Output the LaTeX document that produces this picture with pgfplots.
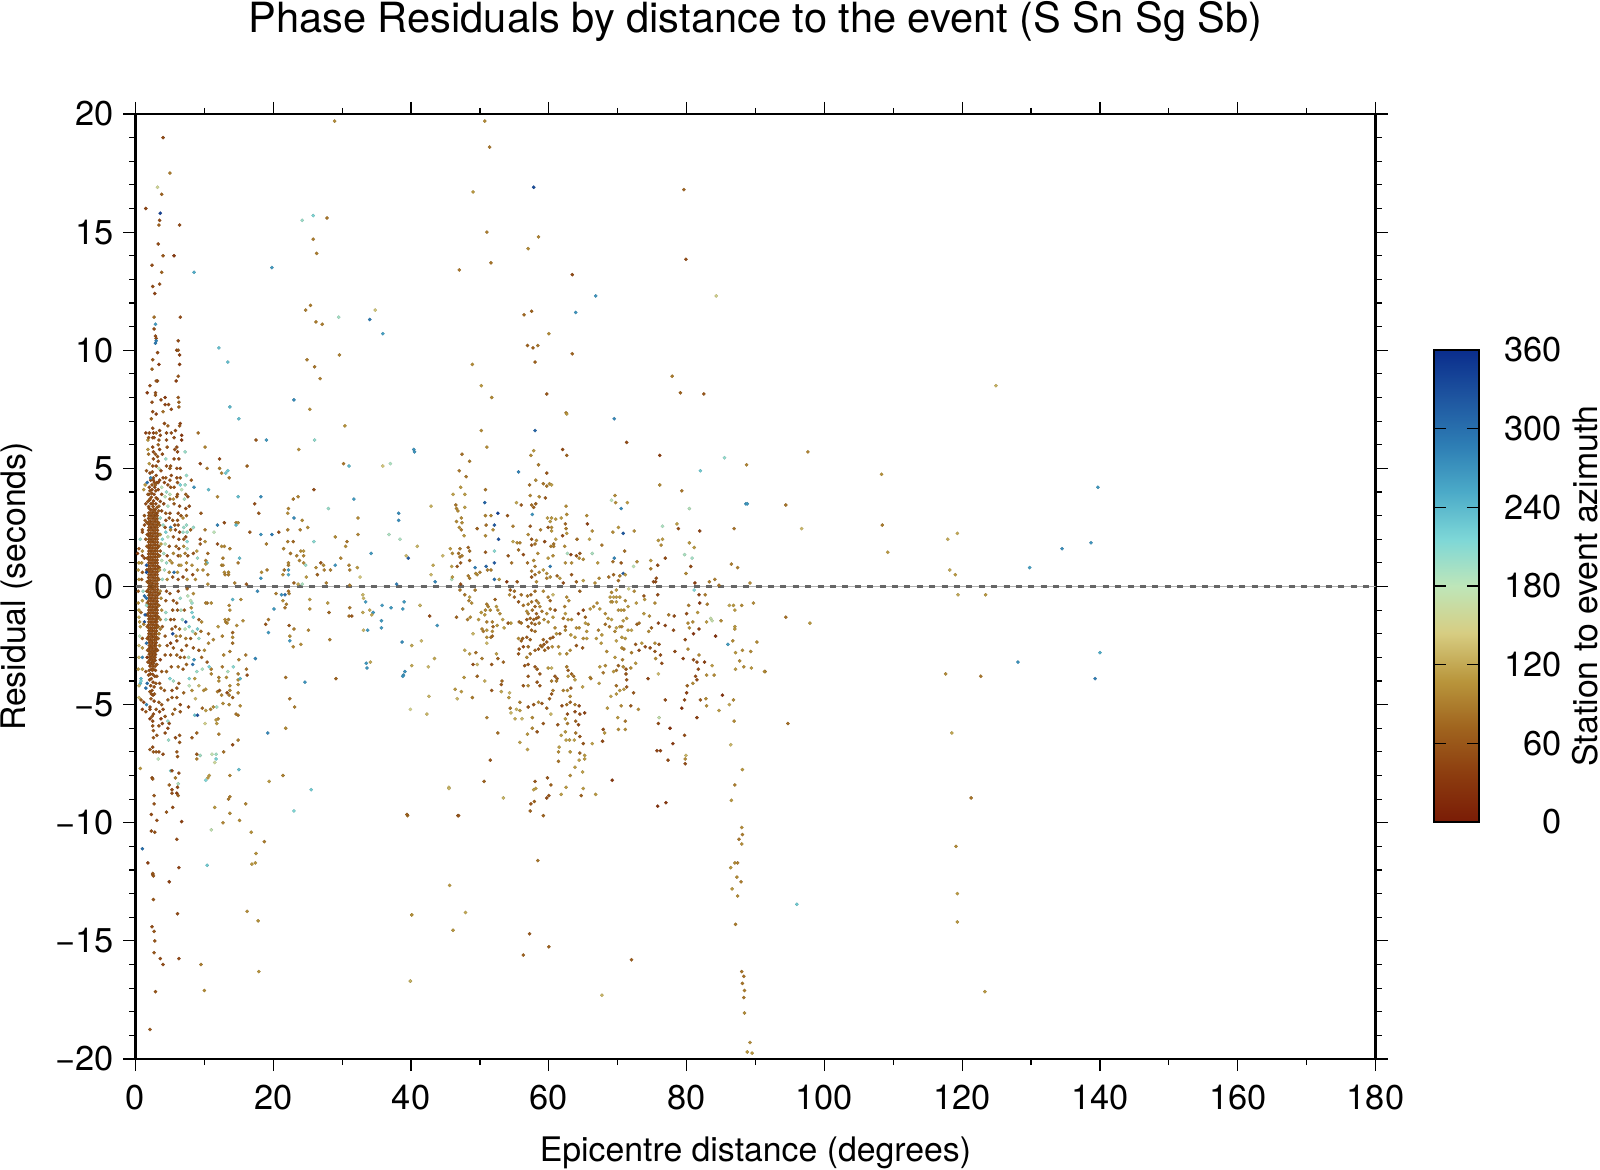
\documentclass[border=0pt]{standalone}
\usepackage{pgfplots}
\usepackage{fontspec}
\setmainfont{TeX Gyre Heros}
\pgfplotsset{compat=1.18}
\pgfplotstableread{
x y m
1.95 3.9 55
2.7 3.9 50
2.3 3.78 55
3 3.75 55
2 3.65 60
2.6 3.62 50
2.25 3.5 55
2.95 3.5 50
1.9 3.38 55
2.55 3.38 55
3.15 3.35 60
2.2 3.25 50
2.85 3.25 55
2.5 3.13 55
1.95 3.12 55
3.1 3.1 50
2.25 3 55
2.8 3 55
1.9 2.88 55
2.55 2.88 50
3.15 2.87 55
2.2 2.75 55
2.85 2.75 55
1.95 2.63 55
2.55 2.63 55
3.15 2.62 55
2.25 2.5 50
2.85 2.5 55
1.9 2.38 55
2.55 2.38 55
3.2 2.38 55
2.2 2.25 55
2.85 2.25 50
1.95 2.13 55
2.5 2.13 55
3.15 2.12 55
2.25 2 55
2.85 2 55
1.9 1.88 55
2.55 1.88 55
3.2 1.87 55
2.2 1.75 55
2.85 1.75 55
1.95 1.63 50
2.5 1.63 55
3.15 1.62 55
2.25 1.5 55
2.85 1.5 55
1.9 1.38 55
2.55 1.38 55
3.2 1.37 55
2.2 1.25 55
2.85 1.25 50
1.95 1.13 55
2.5 1.13 55
3.15 1.12 55
2.25 1 55
2.85 1 55
1.9 .88 55
2.55 .88 55
3.2 .87 50
2.2 .75 55
2.85 .75 55
1.95 .63 55
2.5 .63 55
3.15 .62 55
2.25 .5 55
2.85 .5 55
1.9 .38 50
2.55 .38 55
3.2 .37 55
2.2 .25 55
2.85 .25 55
1.95 .13 55
2.5 .13 55
3.15 .12 55
2.25 0 55
2.85 0 55
1.9 -.12 55
2.55 -.12 55
3.2 -.13 50
2.2 -.25 55
2.85 -.25 55
1.95 -.37 55
2.5 -.37 55
3.15 -.38 55
2.25 -.5 55
2.85 -.5 55
1.9 -.62 55
2.55 -.62 50
3.15 -.63 55
2.2 -.75 55
2.85 -.75 55
1.95 -.87 55
2.5 -.87 55
3.1 -.88 55
2.25 -1 55
2.85 -1 55
1.9 -1.12 50
2.55 -1.12 55
3.15 -1.13 55
2.2 -1.25 55
2.85 -1.25 55
1.95 -1.37 55
2.5 -1.37 55
3.1 -1.38 55
2.25 -1.5 55
2.85 -1.5 50
1.9 -1.62 55
2.55 -1.62 55
3.1 -1.63 55
2.2 -1.75 55
2.8 -1.75 55
1.95 -1.87 55
2.5 -1.87 55
3.05 -1.88 55
2.25 -2 50
2.8 -2 55
1.9 -2.12 55
2.5 -2.12 55
3 -2.13 55
2.2 -2.25 55
2.75 -2.25 55
2 -2.37 55
2.45 -2.37 55
3 -2.38 55
2.2 -2.5 55
2.75 -2.5 50
2 -2.62 55
2.45 -2.62 55
2.95 -2.63 55
2.25 -2.75 55
2.7 -2.75 55
2 -2.87 55
2.45 -2.87 55
2.9 -2.88 50
2.25 -3 55
2.7 -3 55
2.05 -3.12 55
2.5 -3.12 55
2.85 -3.13 55
2.3 -3.25 55
2.65 -3.25 55
2.1 -3.37 50
2.5 -3.37 55
2.85 -3.38 55
2.3 -3.5 55
2.6 -3.5 55
2.15 -3.7 50
2.5 -3.72 55
2.8 -3.8 50
2.3 -3.9 55
2.55 -4.05 50
2.2 -4.2 55
2.7 -4.25 55
2.4 -4.4 50
2.55 -4.6 50
2.25 -4.75 60
2.7 -4.85 50
2.25 3.12 55
2.85 3.13 55
1.95 3 55
2.55 3 55
3.15 3 55
2.25 2.88 55
2.85 2.87 55
1.95 2.75 55
2.55 2.75 55
3.15 2.75 55
2.25 2.63 55
2.85 2.62 55
1.95 2.5 55
2.55 2.5 55
3.15 2.5 55
2.25 2.38 55
2.85 2.37 55
1.95 2.25 55
2.55 2.25 55
3.15 2.25 55
2.25 2.13 55
2.85 2.12 55
1.95 2 55
2.55 2 55
3.15 2 55
2.25 1.88 55
2.85 1.87 55
1.95 1.75 55
2.55 1.75 55
3.15 1.75 55
2.25 1.63 55
2.85 1.62 55
1.95 1.5 55
2.55 1.5 55
3.15 1.5 55
2.25 1.38 55
2.85 1.37 55
1.95 1.25 55
2.55 1.25 55
3.15 1.25 55
2.25 1.13 55
2.85 1.12 55
1.95 1 55
2.55 1 55
3.15 1 55
2.25 .88 55
2.85 .87 55
1.95 .75 55
2.55 .75 55
3.15 .75 55
2.25 .63 55
2.85 .62 55
1.95 .5 55
2.55 .5 55
3.15 .5 55
2.25 .38 55
2.85 .37 55
1.95 .25 55
2.55 .25 55
3.15 .25 55
2.25 .13 55
2.85 .12 55
1.95 0 55
2.55 0 55
3.15 0 55
2.25 -.12 55
2.85 -.13 55
1.95 -.25 55
2.55 -.25 55
3.15 -.25 55
2.25 -.37 55
2.85 -.38 55
1.95 -.5 55
2.55 -.5 55
3.15 -.5 55
2.25 -.62 55
2.85 -.63 55
1.95 -.75 55
2.55 -.75 55
3.15 -.75 55
2.25 -.87 55
2.85 -.88 55
1.95 -1 55
2.55 -1 55
3.15 -1 55
2.25 -1.12 55
2.85 -1.13 55
1.95 -1.25 55
2.55 -1.25 55
3.1 -1.25 55
2.25 -1.37 55
2.85 -1.38 55
1.95 -1.5 55
2.55 -1.5 55
3.1 -1.5 55
2.25 -1.62 55
2.85 -1.63 55
1.95 -1.75 55
2.5 -1.75 55
3.05 -1.75 55
2.25 -1.87 55
2.8 -1.88 55
1.95 -2 55
2.5 -2 55
3 -2 55
2.25 -2.12 55
2.75 -2.13 55
1.95 -2.25 55
2.45 -2.25 55
3 -2.25 55
2.25 -2.37 55
2.75 -2.38 55
2 -2.5 55
2.45 -2.5 55
2.95 -2.5 55
2.25 -2.62 55
2.7 -2.63 55
2 -2.75 55
2.45 -2.75 55
2.9 -2.75 55
2.25 -2.87 55
2.7 -2.88 55
2.05 -3 55
2.45 -3 55
2.85 -3 55
2.3 -3.12 55
2.65 -3.13 55
2.5 -3.25 55
2.1 -3.25 55
3.35 2.7 60
3.45 2.2 55
3.4 1.7 60
3.5 1.3 70
3.45 .8 55
3.4 .3 70
3.45 -.3 60
3.4 -.8 70
3.35 -1.3 60
3.3 -1.7 70
3.3 -2.2 60
3.2 -2.7 55
3.1 -3.3 60
1.65 2.7 60
1.7 2.2 55
1.65 1.7 60
1.7 1.2 60
1.65 .7 55
1.7 .2 60
1.65 -.2 55
1.7 -.7 60
1.65 -1.2 55
1.7 -1.7 60
1.7 -2.2 55
1.75 -2.7 60
1.8 -3.2 55
3.3 4.1 50
2.4 4.1 55
2.8 4.2 50
3.1 4.4 55
2.6 4.6 55
2.2 4.5 50
2.1 4.05 55
2.5 3.5 55
2.6 3.25 55
2 3.3 55
3.2 3.7 55
2.35 3.95 55
3.35 3.2 60
2.75 4.4 55
1.8 3.6 60
2.45 4.85 50
2.95 4.05 55
2 -3.55 55
2.9 -3.55 55
2.45 -3.55 55
2.05 -3.95 55
2.95 -4.1 60
2.3 -4.55 55
2.75 -4.55 60
3.1 -3.8 60
1.9 -3.75 55
2.1 -4.45 60
4 19 50
5 17.5 90
3.2 16.9 155
3.8 16.6 70
1.5 16 45
3.6 15.8 340
3.5 15.5 50
3.4 15.3 70
6.4 15.3 50
25.8 15.7 215
24.2 15.5 200
27.8 15.6 85
28.9 19.7 100
3.3 14.5 50
25.8 14.7 90
26.3 14.1 90
4 14 60
5.6 14 35
2.4 13.6 50
3.8 13.3 70
8.5 13.3 250
19.8 13.5 265
2.5 12.7 50
3.5 12.8 50
2.8 12.4 40
25.4 11.9 90
24.7 11.7 90
26.2 11.2 90
27.1 11.1 90
34.8 11.7 140
29.5 11.4 195
34 11.3 290
35.9 10.7 260
2.7 11.4 80
6.5 11.4 50
2.9 11.1 265
2.7 10.9 50
2.9 10.6 50
3 10.5 50
6.2 10.4 50
2.9 10.3 290
3 10.4 285
3.2 9.9 50
6 10 50
6.2 10 60
6.4 9.8 40
12.1 10.1 235
13.4 9.5 235
24.9 9.6 90
29.6 9.8 95
26 9.3 85
26.8 8.8 90
2.5 9.6 60
3.4 9.4 35
6.4 9.4 40
2.4 9.2 70
6.2 8.9 60
5.9 8.7 40
3.2 8.7 55
3 8.7 55
2.1 8.5 50
1.7 8.2 35
2.9 8.2 50
2.9 8.1 60
4.3 8 35
6.2 8 60
3.7 7.9 50
2.4 7.8 50
4.3 7.7 40
4.8 7.7 50
6.3 7.8 70
6.3 7.6 70
23 7.9 275
13.7 7.6 240
15 7.1 235
25.3 7.5 100
2.5 7.4 50
3 7.3 40
4 7.4 80
5.2 7.5 50
2.3 7.1 70
4.2 6.9 50
4.7 6.8 70
6.5 6.9 40
6.4 6.8 60
30.4 6.8 105
1.5 6.5 40
9.1 6.5 80
17.5 6.2 60
19 6.2 265
26 6.2 205
10.1 5.9 95
23.7 5.8 100
40.4 5.8 270
40.5 5.7 270
9.4 5.2 45
12.2 5.4 45
12.2 5 90
10.4 5 85
16.2 5.1 70
12.5 4.8 90
13.1 4.8 225
13.4 4.9 225
13.6 4.6 85
30.2 5.2 85
31 5.1 240
35.9 5.1 140
37 5.2 190
8.5 4.2 270
10.6 4.1 235
11.9 3.8 95
14.9 3.8 235
18.2 3.8 275
17.3 3.5 50
22.9 3.7 85
23.6 3.8 95
25.9 4.1 50
31.7 3.7 265
28 3.3 200
22.2 3.3 95
22.1 3.1 100
17.9 3.1 60
9.5 3.1 60
38.2 3.1 275
38.2 2.8 275
32.3 2.9 100
23 2.9 275
24.2 2.8 100
11.9 2.6 285
12.9 2.7 50
14.6 2.7 90
14.9 2.7 100
14.6 2.6 240
25 2.5 100
10.1 2.4 85
11.4 2.3 180
16.6 2.3 60
18.2 2.2 270
19.8 2.2 290
20.8 2.3 50
22.1 2.4 90
23.9 2.4 90
29 2.1 100
32.3 2.2 95
36.8 2.2 190
38.4 2 190
40.9 1.7 130
9.4 2 50
9.4 1.8 60
10.1 1.9 100
11.9 1.8 50
12.5 1.7 100
12.9 1.7 95
13.7 1.6 90
19 1.8 90
22.1 1.9 90
22.9 1.9 75
21.5 1.6 95
22.5 1.4 85
24 1.5 100
24.4 1.5 110
24.4 1.3 95
23.4 1.3 90
25.9 1.9 210
30.7 1.9 85
30.5 1.7 100
34.2 1.4 265
39.3 1.3 130
39.6 1.2 320
29.8 1.2 95
26.9 1 60
26.2 .8 100
27.3 .9 100
24.7 .9 200
29 .9 270
31 .9 95
31.1 .7 90
32.2 .8 110
28.3 .7 90
27.4 .7 90
26.4 .5 70
24.8 .4 110
22.2 .7 265
22.2 .5 250
21.4 .5 100
21.6 .7 80
22.2 .9 90
22.2 1 95
24.4 1 95
23.8 1.1 95
19.1 .7 90
18.3 .6 100
18.2 .35 270
32.6 .4 140
14.9 1 85
15.1 1.2 235
12.7 1.2 90
12.5 .9 100
12.7 .9 90
12.9 .6 100
13.5 .6 100
13 .5 90
13.5 .5 90
10.5 1.4 75
10.2 1.1 90
10.4 1 235
10.2 .95 110
9.8 .7 100
10.5 .5 90
8.9 1.5 110
9 1.2 200
9 .7 100
14.4 .15 90
10.5 .1 100
16.1 .1 60
23 .15 70
23.6 .1 120
24.2 .1 190
27.7 .15 90
31.1 .05 90
37.9 .1 290
17.7 -.2 275
20.4 -.3 90
21.2 -.35 270
21.7 -.35 300
22.2 -.2 80
22.3 -.3 90
21.4 -.6 100
21.9 -.75 90
21.7 -.9 80
20.1 -.95 265
14.1 -.55 240
15.3 -.55 100
11 -.7 100
10.4 -.7 85
10.2 -.7 90
13.6 -.8 95
13.7 -1 100
25.3 -.55 110
25.3 -.95 100
27.9 -.7 110
28.1 -1.1 75
31.1 -.9 85
31 -1.25 80
31.4 -1.25 60
33 -.35 130
33.1 -.5 130
33.4 -.65 265
35.8 -.8 265
37.1 -.9 265
39 -.65 265
38.8 -.95 265
41.3 -.8 130
33 -1.1 120
34 -1 120
34.5 -1.1 265
34.3 -1.2 120
35.7 -1.45 265
35.7 -1.75 265
33.1 -1.85 130
33.7 -1.85 265
28.2 -2.25 90
25.1 -1.85 95
23 -1.8 90
22.3 -1.65 60
22.4 -2.1 100
22.4 -2.3 265
22.9 -2.55 95
24 -2.45 100
19.3 -1.4 85
18.9 -1.6 60
19.3 -1.95 265
15.6 -1.45 100
14.7 -1.65 100
14.1 -1.95 70
14.1 -2.15 100
14.1 -2.4 80
13 -1.4 100
13.3 -1.55 100
13.1 -1.5 90
13.5 -1.4 95
12 -1.7 110
12.6 -2.1 95
11.3 -2.25 95
10.6 -2.4 95
13.7 -2.75 90
16 -2.9 85
12.8 -2.9 95
17.4 -3.05 280
15 -3.1 95
38.7 -2.35 275
40.1 -2.5 120
40.1 -3.35 120
33.5 -3.25 265
33.6 -3.45 270
34.1 -3.2 120
39.1 -3.6 270
38.9 -3.75 270
38.8 -3.8 270
29.1 -3.9 70
24.6 -4.05 270
21.8 -3.85 80
16.1 -3.5 80
16.2 -3.75 50
14.9 -3.7 90
14.9 -3.95 100
15.2 -3.9 240
14.2 -3.4 210
13.4 -3.6 190
13.2 -3.85 100
12.1 -3.85 90
12.1 -4 100
11 -3.5 90
11 -3.7 95
12.6 -3.4 85
13.7 -4.2 100
13.7 -4.4 100
14.9 -4.15 100
14.9 -4.5 95
11.9 -4.45 90
12.2 -4.4 60
13.3 -4.5 50
13.6 -4.6 90
14.1 -4.7 70
12.5 -4.6 95
12.7 -4.95 100
13.6 -5 100
15.2 -5.05 100
11.8 -5.1 195
11.3 -5.1 100
10.9 -5.2 90
10.2 -5.25 110
9.7 -5.15 70
10.2 -4.35 100
8.7 -4.75 130
8.6 -5.45 230
9 -5.45 330
14.6 -5.4 85
14.9 -5.45 85
12 -5.6 95
11.7 -5.65 110
11.8 -5.8 110
10.1 -5.8 150
22.4 -4.75 80
23.1 -5.1 90
21.8 -6 100
39.9 -5.2 150
12.1 -6.25 90
8.9 -6.2 70
8.2 -6.4 60
19.2 -6.2 280
14.9 -6.5 90
14.1 -6.7 50
12.8 -7 80
8.9 -7.1 60
9.4 -7.15 195
8.9 -7.3 90
11.1 -7.1 175
11.7 -7.1 195
11.7 -7.3 220
11.5 -7.45 160
15 -7.75 235
10.7 -8 110
10.5 -8.1 110
10.2 -8.2 215
13.7 -8 95
21.4 -8 95
19.4 -8.25 110
25.5 -8.6 225
13.7 -8.9 90
13.5 -9 85
16 -9.2 95
11.5 -9.35 110
13.7 -9.6 100
15.1 -9.9 100
12.7 -10 95
23 -9.5 215
11 -10.3 175
16.8 -10.4 105
18.7 -10.8 90
17.5 -11.3 105
17.4 -11.7 105
16.9 -11.75 110
10.4 -11.8 225
39.5 -9.7 80
16.2 -13.75 100
17.8 -14.15 105
40.1 -13.9 130
9.5 -16 90
17.9 -16.3 105
10 -17.1 100
39.9 -16.7 140
.7 -7.7 110
5.1 -7.8 215
5.3 -7.8 45
6.3 -7.9 50
2.4 -8.1 50
2.5 -8.15 60
5.8 -8.1 90
6.2 -8.35 190
4.9 -8.4 70
6.1 -8.5 50
5.3 -8.6 50
5.3 -8.75 50
6 -8.75 40
6.2 -8.85 70
2.7 -8.85 60
2.7 -9.2 55
5.4 -9.35 50
4.5 -9.55 60
2.3 -9.65 50
3.1 -9.9 50
6.7 -9.95 40
2.3 -10.35 50
2.8 -10.4 55
6 -10.7 50
1 -11.1 300
1.8 -11.7 40
6.3 -11.9 40
2.5 -12.2 50
2.6 -12.25 60
2.5 -12.15 60
4.9 -12.5 40
2.6 -13.25 60
6.1 -13.85 50
2.4 -14.4 50
2.7 -14.6 60
2.8 -15 60
2.7 -15.5 60
6.3 -15.75 45
3.6 -15.75 50
4 -16 50
2.9 -17.15 60
2.1 -18.75 60
2 6.5 50
2.5 6.7 50
2.6 6.5 40
3 6.5 70
3.5 6.6 50
3.6 6.4 50
4.5 6.5 50
5.2 6.5 50
5.8 6.6 50
1.8 6.2 110
1.9 6.3 60
2.5 6.3 60
2.7 6.3 50
3.4 6.2 60
4.5 6.2 50
5.6 6.3 50
6.7 6.4 30
6.7 6.2 30
2.5 5.9 50
3.3 6 70
3.5 5.8 50
4.6 5.9 60
5.7 5.8 50
6 5.9 50
6.1 5.7 50
7.2 5.7 200
1.8 5.8 110
1.9 5.6 80
2.6 5.7 50
2.9 5.6 60
3.2 5.5 60
3.9 5.6 50
4.4 5.4 200
2.6 5.4 50
3.3 5.3 50
5.6 5.4 50
6.3 5.4 50
2 5.2 110
2.5 5.1 50
3 5.1 55
3.4 5 180
3.7 4.9 50
4.5 5.1 50
5 5 70
5.1 5.1 60
6 5 50
6.5 5 50
7.4 4.7 200
1.6 4.9 60
2.1 4.8 50
2.2 4.6 280
2.6 4.5 50
3 4.7 50
3.5 4.5 50
4 4.6 50
4.4 4.6 60
5 4.5 60
5.2 4.7 50
6 4.6 50
6.1 4.4 60
6.5 4.6 60
7.2 4.3 200
8.1 4.5 60
1.7 4.4 300
2.4 4.3 60
2.9 4.3 70
3.3 4.4 50
4.2 4.4 50
4.7 4.3 55
5.1 4.2 60
5.6 4.2 60
6.5 4.3 220
6.7 4.1 180
1.2 4.1 110
1.4 4.3 110
2 4.2 50
3.8 4.2 180
4.5 4 200
5 3.9 180
6.1 3.9 60
7.3 3.9 70
7.6 3.8 50
1.8 3.9 60
2.1 3.7 60
3.8 3.9 50
4.3 3.8 180
5 3.7 70
5.5 3.7 100
6 3.8 60
7.1 3.7 190
1.5 3.5 50
3.6 3.6 50
4.1 3.5 50
4.7 3.4 190
5.6 3.5 60
6.4 3.4 50
7.3 3.3 50
7.8 3.4 50
3.4 3.4 70
3.8 3.2 50
4.4 3.1 60
5 3.1 50
6.2 3.1 50
6.6 3 60
7.4 3 70
1.3 3 60
1.4 2.8 60
3.6 2.9 200
4.4 2.8 50
4.9 2.9 55
5.4 2.8 60
6.1 2.8 60
6.9 2.9 100
1.3 2.6 50
3.5 2.6 70
4 2.6 200
4.3 2.5 60
5.1 2.5 280
5.7 2.6 60
6.2 2.6 60
7 2.5 200
7.4 2.6 200
8.4 2.5 200
1 2.4 60
1 2.3 50
4.4 2.3 220
5.1 2.4 100
5.8 2.4 50
6.4 2.3 50
6.9 2.3 200
7.5 2.3 200
8 2.4 70
.7 2 200
1.5 2 60
3.6 2.2 100
3.9 2 210
4.7 2.1 180
5.5 2.1 60
6.3 2 50
7 2 60
7.3 2.1 50
7.5 1.9 210
.5 1.6 60
1 1.5 100
3.7 1.8 110
4.3 1.8 180
4.9 1.7 60
5.9 1.7 70
6.3 1.6 50
7 1.7 100
7.5 1.6 190
.3 1.4 40
1 1.3 50
1.3 1.2 50
3.6 1.5 60
4.1 1.4 190
4.6 1.3 50
5.5 1.4 100
6.2 1.3 50
6.5 1.3 100
7.2 1.4 90
7.6 1.3 60
8.4 1.4 60
.5 1 110
.9 1 100
1.6 .9 320
3.8 1.1 180
4.5 1 200
5 1.1 110
5.3 1 100
6.3 .9 100
6.6 .9 110
7.4 1 100
8.2 .9 100
.4 .7 110
1 .6 60
1.6 .6 330
3.5 .7 100
4.2 .7 190
4.9 .6 100
5.6 .6 300
6.1 .6 110
7.4 .7 70
8.3 .5 50
.5 .3 100
.9 .3 60
3.9 .3 200
4.6 .3 100
5.4 .4 60
6.2 .3 60
6.9 .4 50
7.5 .3 110
8.7 .3 100
.4 -.2 60
1.1 -.2 200
1.3 -.4 300
1.6 -.5 300
3.6 -.2 100
4.5 -.2 50
5 -.3 60
6.2 -.2 50
7.5 -.1 70
8.4 -.3 100
.4 -.7 100
1 -.6 110
1.6 -.8 200
3.7 -.5 100
4.4 -.6 60
5.5 -.6 60
6 -.7 60
6.5 -.5 200
7.6 -.4 180
8.2 -.7 200
8 -.6 180
.5 -1 110
.8 -1.1 70
1.4 -1.2 320
3.8 -1 100
4.4 -1.1 200
5.4 -1 60
6.1 -1 60
6.6 -1 190
7.1 -1 60
8.1 -.9 100
8.2 -1.1 220
.5 -1.3 120
.6 -1.5 110
1.3 -1.5 330
3.6 -1.4 90
4.4 -1.4 200
5.1 -1.4 50
5.6 -1.4 60
6.8 -1.4 200
7.3 -1.5 330
8.4 -1.3 220
9.2 -1.4 60
9.6 -1.5 100
.7 -1.7 110
1.2 -1.6 90
3.6 -1.8 90
3.9 -1.7 60
5.3 -1.8 60
5.8 -1.7 60
6.4 -1.8 80
7.2 -1.8 180
7.8 -1.7 210
8.3 -1.9 200
9 -1.8 225
9.5 -1.9 80
10.6 -2 75
.6 -2.1 180
1 -2.2 60
1.6 -2.4 300
3.4 -2 90
4.3 -2.1 60
5.4 -2 330
5.9 -2.1 100
6.5 -2.1 90
7.3 -2.2 90
8 -2.2 60
8.7 -2 100
9.2 -2.2 200
.5 -2.5 130
1 -2.6 110
3.5 -2.5 90
4.6 -2.5 60
5.1 -2.4 40
5.5 -2.6 60
6 -2.3 50
6.7 -2.7 60
7.4 -2.5 60
8.4 -2.6 60
9.2 -2.7 60
10 -2.7 100
.5 -3 130
1 -3 280
1.7 -3 30
3.6 -3.1 40
4.3 -2.9 60
5.1 -2.9 60
6 -2.9 70
6.5 -3 60
7.1 -3 70
7.7 -3 190
8.5 -3.1 270
9.6 -3 70
10.4 -3.2 60
.4 -3.5 110
1 -3.5 110
1.5 -3.6 60
3.8 -3.6 60
4.5 -3.6 70
5.2 -3.4 60
6.2 -3.4 80
6.9 -3.5 60
7.4 -3.3 70
8.3 -3.3 300
8.9 -3.6 200
9.7 -3.5 190
10.7 -3.4 220
.8 -3.9 240
.7 -4.1 240
.8 -4 220
1.7 -4.1 300
3.5 -4.1 50
5 -3.9 215
5.5 -4 195
6.3 -4.1 60
7.8 -3.9 215
8.6 -3.9 110
9.2 -4.2 130
.5 -4.2 130
1.5 -4.3 300
3.7 -4.3 70
4.2 -4.4 60
5.3 -4.4 50
6 -4.3 60
7.8 -4.2 180
7 -4.5 70
8.2 -4.4 100
9.9 -4.4 100
.5 -4.7 130
.8 -4.8 70
1.2 -4.9 40
1.6 -5 280
2.1 -5.1 50
3.4 -4.9 60
3.8 -5 60
4.7 -4.8 60
5.3 -4.7 60
6 -4.7 60
6.5 -5 50
7.7 -5.1 50
1 -5.2 40
1.5 -5.3 60
2.1 -5.2 50
2.6 -5.4 50
3 -5.2 60
3.5 -5.3 50
4 -5.2 50
5.7 -5.2 70
6.5 -5.3 60
5.4 -5.4 70
2.1 -5.6 40
2.5 -5.7 50
2.5 -5.9 60
2.4 -5.5 60
3.4 -5.9 60
3.7 -5.6 40
3.9 -5.8 50
4.3 -5.5 60
4.7 -5.7 200
4.9 -5.8 50
4.7 -6 50
2.6 -6.1 60
2.6 -6.4 60
3.1 -6.3 60
4.3 -6.2 50
4.8 -6.5 200
5.8 -6.4 50
6.4 -6.3 60
6.4 -6.6 60
2.5 -6.8 50
2.1 -6.9 60
2.6 -7 60
3 -7 60
3.4 -7 55
4 -7.1 50
6 -7 60
6.1 -7.2 60
3.3 -7.3 180
50.7 19.7 100
51.4 18.6 85
49 16.7 110
57.8 16.9 330
79.6 16.8 70
51 15 90
58.5 14.8 95
57 14.3 100
51.6 13.7 85
47 13.4 85
79.9 13.85 50
63.4 13.2 50
66.8 12.3 270
84.3 12.3 150
63.9 11.6 270
56.4 11.5 75
57.5 11.65 70
58.4 10.2 85
56.9 10.2 70
57.7 10.1 70
60 10.7 100
63.4 9.85 70
58 9.5 70
48.9 9.4 100
77.9 8.9 90
50.2 8.5 110
79.1 8.2 70
82.5 8.15 60
59.7 8.15 60
51.7 8 100
124.9 8.5 125
62.5 7.35 90
97.6 5.7 95
108.3 4.75 105
139.7 4.2 265
88.6 3.5 270
94.4 3.45 85
108.4 2.6 90
109.2 1.45 110
138.7 1.85 270
134.5 1.6 275
129.8 .8 260
117.9 2 120
119.3 2.25 120
118.2 .7 120
119 .5 110
119.4 -.35 120
123.4 -.35 110
96.7 2.45 130
94.4 -1.3 80
97.9 -1.55 110
140 -2.8 250
128.1 -3.2 270
117.6 -3.7 100
122.7 -3.8 85
139.3 -3.9 290
91.4 -3.6 90
94.7 -5.8 80
118.5 -6.2 120
121.3 -8.95 85
119.1 -11 100
119.3 -13 110
119.3 -14.2 110
123.3 -17.15 110
96 -13.45 225
67.7 -17.3 130
72 -15.8 65
56.3 -15.6 70
57.2 -14.7 60
60 -15.25 70
46.1 -14.55 110
47.9 -13.8 120
45.6 -12.65 110
40.1 -13.9 105
39.9 -16.7 130
58.4 -11.6 85
39.4 -9.65 70
46.8 -9.7 60
45.5 -8.5 130
88 -10.2 100
88.1 -10.5 90
88 -10.9 100
87.6 -10.7 85
87 -11.7 100
87.4 -11.7 90
86.4 -11.9 110
87.3 -12.3 100
87.9 -12.5 90
86.6 -12.8 110
87.4 -13.1 100
87.1 -14.3 90
88 -16.3 85
88.3 -16.5 80
88.1 -16.8 85
88.4 -17.1 90
88.3 -17.4 85
88.4 -18.05 100
89.2 -19.3 100
89.5 -19.75 110
88.8 -19.7 110
86.4 -6.7 130
69.5 7.1 280
58 6.6 310
50.2 6.6 100
62.6 7.3 110
71.3 6.1 50
51 5.9 100
47.4 5.6 80
57.8 5.75 110
62 5.8 50
57.4 5.55 100
62.6 5.55 70
76.1 5.55 40
85.5 5.45 205
48.5 5.3 90
88.7 5.15 95
82 4.9 225
58.5 5.15 90
47 4.9 85
55.6 4.85 285
59.7 4.8 60
48 4.65 85
58.1 4.5 100
57.2 4.3 80
59.2 4.35 85
59.7 4.25 85
60.1 4.35 100
60.4 4.3 115
76.1 4.3 100
50.8 4.1 85
47.2 4.2 110
46.1 3.9 115
47.8 3.9 115
79.3 4.05 85
57.3 3.85 95
58.6 3.8 100
59.5 3.75 60
69.6 3.85 100
50.7 3.55 310
46.5 3.45 85
46.6 3.3 95
46.8 3.2 100
47.8 3.35 115
42.9 3.4 125
55.3 3.55 120
56 3.45 60
57.5 3.45 80
57.8 3.35 70
58.1 3.5 70
62.5 3.4 100
69.1 3.65 180
69.7 3.55 100
71.4 3.55 110
70.5 3.3 280
80.4 3.3 185
88.8 3.5 265
52.6 3.1 340
57.6 3.05 270
47.3 2.9 100
51.6 3 95
50.8 3 95
54 3 60
59.8 2.9 110
60.4 2.9 110
61 2.85 110
61.8 2.9 110
62.6 3.05 100
65.5 3 100
46.6 2.75 100
47.4 2.7 100
47 2.5 100
47.3 2.4 85
47.7 2.15 110
49.6 2.45 70
50.9 2.6 80
52.1 2.6 320
51.9 2.4 100
50.8 2.15 100
52.7 2 330
54.8 2.55 90
57.3 2.55 60
57 2.2 100
60.2 2.75 110
59.9 2.5 60
60.4 2.5 100
60.4 2.35 110
58.8 2.4 90
62.4 2.65 70
62.5 2.45 90
62.6 2.25 110
62 2.15 50
65.6 2.65 40
66.3 2.35 100
65.9 2 115
69.3 2.3 100
70.1 2.5 110
70.8 2.25 320
72.4 2.35 100
76.5 2.55 190
78.6 2.65 115
78.8 2.45 50
81.9 2.35 40
86.9 2.45 80
75.9 1.95 110
76.5 2 110
76.3 1.75 100
80.4 1.85 110
81.1 1.65 110
57.5 2 60
58.2 1.95 100
58 1.8 85
57.5 1.75 60
59.4 1.9 50
60.3 1.7 90
60.7 1.8 85
60.7 1.7 90
61 2 115
62.3 1.7 100
64.1 2 80
54.8 1.9 120
55.4 1.85 100
55.8 1.85 90
45.7 1.6 110
47.1 1.6 85
48.3 1.65 70
48.5 1.5 80
50.8 1.45 60
52.1 1.5 210
55.6 1.55 80
67.7 1.75 85
71 1.5 80
46 1.4 100
46.9 1.4 80
47.1 1.25 85
47.4 1.3 90
44.6 1.3 130
48.5 1.1 70
47.2 1 60
46.7 .85 60
45.9 .85 115
43.2 .9 120
49.3 .8 290
50.9 .85 310
52.1 1 320
54.6 1 80
54.1 1.3 60
56.3 1.35 50
56.9 1 80
58 .85 90
58.4 1.4 100
57.8 1.1 100
59.9 1.2 110
60.2 .85 290
60.6 1.3 100
62.4 1 100
63.2 1.35 40
63.3 1 100
64 1.3 60
62.7 1.4 190
64.5 1.4 60
64.4 1.2 100
65 1.15 100
67.1 1 110
66.3 1.4 190
69.3 1.05 80
69.5 1.2 280
70.5 1 60
72.8 1.05 100
72.3 .85 180
76.9 1.2 50
75.8 .9 50
74.8 1.1 110
74.8 .75 90
79.7 1.35 190
80.8 1.2 195
80.6 .85 50
79.9 .55 100
86.5 .95 90
87.4 .8 90
42.9 .5 130
43.5 .2 280
45.9 .3 190
46 .4 110
48.3 .45 90
49.6 .5 100
49.4 .55 100
48.5 .35 90
47.2 .1 50
51.1 .7 90
51.6 .7 90
50 .6 90
52.1 .3 300
52.8 .3 110
53.9 .2 30
55.4 .2 60
57.5 .65 85
58.6 .6 95
59.2 .7 110
59.7 .55 100
57.5 .4 60
58 .5 80
59.7 .35 90
60.2 .4 100
61.2 .45 70
61.6 .35 110
62.1 .15 50
58.2 .2 100
63.3 .5 60
64 .2 70
65 .25 115
67.3 .35 100
66.7 .15 100
68.7 .4 80
69.4 .5 70
70.8 .55 320
70.1 .25 80
70.3 .45 90
71.1 .5 110
75.6 .35 50
75.2 .2 50
75.5 .2 50
81.2 .15 40
83.3 .2 90
84.1 .3 90
84.7 .05 85
89.2 .15 100
41.3 -.8 130
42.7 -1.25 50
43.8 -1.65 270
41.5 -2.3 130
43.4 -3.05 120
42.5 -3.4 130
46.6 -1.3 70
47.8 -.35 85
48.5 -.45 110
48.4 -.6 90
48.8 -.7 100
47.5 -.95 90
47.1 -.15 85
49.3 -.15 90
48.2 -1.4 90
48.6 -1.3 100
51 -.75 90
51.2 -.85 95
50.2 -1.1 110
50.8 -1 100
50.7 -1.2 110
51.5 -1 100
52.2 -.55 70
52.4 -.85 110
52.6 -1 100
52.9 -1.15 100
49.8 -1.4 110
51 -1.5 90
51.8 -1.5 90
53.3 -1.4 115
54.1 -1.55 60
54.5 -1.55 110
50.3 -1.8 95
50.5 -1.9 85
51 -1.85 110
51.8 -1.9 100
52.5 -1.65 110
51.9 -1.7 70
53.5 -1.75 115
49 -2 130
51 -2.15 100
51.6 -2.15 85
51.8 -2.1 70
51 -2.4 130
47.8 -2.7 120
48.5 -2.85 110
49.4 -2.8 80
50.3 -3.05 90
52.6 -3.05 70
52.4 -2.85 115
53.4 -3.2 70
49 -3.3 50
49.6 -3.3 130
51.7 -3.3 60
47.7 -3.85 110
49.6 -3.8 70
50.7 -4 120
53.2 -4 75
53.1 -4.15 60
46.4 -4.35 110
47.3 -4.45 110
46.7 -4.75 130
42.6 -4.65 130
48.9 -4.7 90
51.7 -4.4 60
53.1 -4.45 120
54.3 -4.5 130
54.2 -4.7 110
42.3 -5.4 130
51 -5.55 90
52.6 -6.2 80
51.5 -7.35 60
50.6 -8.25 70
45.5 -8.55 130
53.4 -8.95 130
46.9 -9.7 60
55 -.2 80
54.4 -.15 60
54.3 -.35 100
55 -.45 70
55.6 -.65 60
56 -.35 80
56.9 -.4 85
57.4 -.35 70
58 -.2 80
56.3 -.8 80
57 -.75 90
57.5 -.65 80
58.2 -.6 85
58 -.85 70
58.5 -.7 95
58.7 -.85 95
59.2 -.2 100
59.9 -.45 90
60.2 -.6 70
60.6 -.35 130
56.8 -1.05 100
57.6 -1 85
58.2 -1.15 70
59 -1.05 85
59.7 -1.15 100
60.2 -.95 90
60.9 -1 60
57.3 -1.35 75
57.8 -1.4 70
58.2 -1.35 70
57.5 -1.55 70
58 -1.6 75
57 -1.7 70
57.5 -1.85 70
58 -1.9 80
58.6 -1.55 90
59.3 -1.4 100
59.9 -1.5 100
60.6 -1.3 110
55.7 -1.5 70
56 -1.55 80
56.8 -1.4 60
57 -1.15 90
58.5 -1.3 70
56 -2.3 70
56.2 -2.2 70
56.8 -2.15 60
57.3 -2.25 70
55.6 -2.2 100
59.2 -2.25 70
59.7 -2.35 60
60.2 -2.2 70
60.6 -2.15 60
56.3 -2.55 50
55.7 -2.65 60
57 -2.55 80
58 -2.7 70
58.5 -2.65 60
59 -2.55 70
59.4 -2.7 70
59.9 -2.6 60
59.3 -2.45 60
58.8 -2.5 70
55.6 -2.85 60
56.8 -3 100
57.3 -2.85 80
60.5 -2.55 100
61.4 -2.55 100
61.6 -2 70
60.9 -1.75 100
61.1 -2 110
62.4 -1.7 70
62.4 -1.85 100
63.2 -2.05 110
63.8 -2.15 110
64 -1.75 100
64.4 -1.75 100
62.4 -1.15 110
62.1 -1.35 85
62.8 -1.4 100
63.3 -1.4 100
62.6 -.45 100
62.9 -.6 100
64.5 -.2 70
62.3 -.85 90
64.3 -1.15 40
65.3 -1.3 70
65 -1 50
66 -.95 110
66.5 -.85 100
65.3 -1.55 110
65.7 -1.6 100
65.5 -1.9 110
65 -2.2 100
65.5 -2.2 110
62.6 -2.85 100
61.6 -2.85 115
63.1 -2.7 100
64 -2.5 60
64.9 -2.6 60
62.6 -3.4 90
59.9 -3.45 110
60.4 -3.45 130
58 -3.4 60
58.3 -3.5 70
57 -3.3 60
56.5 -3.35 60
58.7 -3.7 60
57 -3.8 60
60.9 -3.8 60
61.2 -3.9 60
60.4 -4 90
61.1 -4 90
62.8 -3.55 60
63.3 -3.7 70
62.8 -3.8 110
63.6 -3.8 80
63.8 -3.95 115
58.3 -4.05 60
58.7 -4.2 60
57 -4.2 100
56.3 -4.2 60
60.6 -4.4 90
60.4 -4.55 60
62.1 -4.4 90
62.7 -4.4 100
63.2 -4.3 60
60.1 -4.75 70
63.1 -4.65 100
63.1 -4.9 70
63.8 -5 90
57.8 -5 60
58.5 -4.9 100
59 -4.95 60
59.7 -5.15 70
57 -5.1 60
55.8 -4.9 90
54.4 -5.15 85
54.5 -5.35 130
55.3 -5.2 130
55.8 -5.25 110
55.1 -5.6 120
56.1 -5.6 130
57.6 -5.55 100
60.3 -5.4 130
61.9 -5.05 50
62.6 -5 80
64.4 -5.05 50
63.8 -5.3 50
64.5 -5.4 50
65.2 -5.35 40
62.7 -5.4 50
62.4 -5.6 115
63.9 -5.7 70
62.7 -5.8 90
61.3 -5.85 60
59.2 -5.8 60
64.3 -5.85 50
57.6 -6 100
58.3 -6.15 60
56.9 -6.25 110
62.4 -6.15 110
61.8 -6.3 115
63.9 -6.2 85
64.5 -6.35 60
55.8 -6.6 115
56.9 -6.9 115
62.5 -6.5 115
63 -6.5 115
63.7 -6.5 115
65 -6.65 60
66.3 -6.65 115
61.5 -6.8 115
61.4 -7 100
63.1 -7 110
64.5 -7.05 70
65.2 -7.15 110
65.2 -7.3 110
64.4 -7.35 115
61.4 -7.4 85
63.8 -7.65 110
64.9 -7.85 115
63.1 -8 100
59.8 -8.1 60
58 -8.25 60
60.3 -8.4 70
58.1 -8.55 110
57.8 -8.6 115
62.5 -8.5 110
65 -8.55 110
59.7 -8.95 50
60 -8.85 60
61.8 -8.8 115
64.7 -8.85 70
66.8 -8.8 110
57.9 -9.1 70
57.4 -9.2 60
57.3 -9.5 70
59.2 -9.7 70
69.1 -.25 100
69.8 -.15 110
69.4 -.45 115
68.9 -.45 110
69.8 -.45 110
70.3 -.45 110
69 -.65 110
69.2 -.65 100
69.8 -.65 110
71.1 -.6 100
71.6 -.1 150
72.4 -.2 100
73.8 -.4 60
73.9 -.55 110
75.8 -.35 50
75.4 -.7 100
72.7 -.7 110
71.5 -.85 110
70.1 -1 100
70.5 -1 110
70.9 -1 100
68.2 -1.15 100
69.1 -1.4 115
68.6 -1.35 110
67.4 -.95 110
67 -.7 100
71.3 -1.35 110
70.8 -1.45 110
72.8 -1.6 70
73.1 -1.55 80
70.3 -1.7 110
69.8 -1.75 115
70.6 -1.7 90
68.8 -1.7 85
68.2 -1.6 80
69.6 -1.9 100
71.5 -1.85 110
70.6 -2.15 110
71.1 -2.2 110
72 -1.85 115
67.2 -1.85 90
67.7 -2.05 110
66.9 -2.2 110
69.8 -2.3 115
67.6 -2.4 110
73.8 -1.15 110
74.6 -1.25 100
75.9 -1.55 40
76.9 -1.65 40
77.4 -1.2 90
78.2 -1.25 50
74.5 -1.9 100
74.9 -1.75 70
78.1 -1.85 50
72.6 -2.45 60
73.5 -2.4 110
74 -2.55 50
74.7 -2.6 50
75.4 -2.4 100
76 -2.45 60
73.1 -2.7 50
75.4 -2.75 60
72 -2.8 90
70.6 -2.6 100
70.9 -2.65 90
68.4 -2.75 100
69.6 -3 110
76.2 -2.9 50
78.3 -2.75 50
75.5 -3.05 100
76.4 -3.25 50
79.5 -3.05 40
70.7 -3.1 90
70.1 -3.35 70
70.8 -3.4 100
71.9 -3.45 100
72.6 -3.25 110
67.4 -3.4 110
68.2 -3.35 100
67.9 -3.65 85
69.4 -3.6 110
69.8 -3.55 85
71.2 -3.5 60
71.2 -3.7 60
71.3 -3.95 60
74.4 -3.9 45
75.9 -3.7 130
66 -3.85 100
66.1 -3.9 85
67.3 -4.1 110
64.9 -4.25 115
69.8 -4.2 80
71.3 -4.25 60
70.9 -4.35 110
70.3 -4.4 110
69.8 -4.55 110
69 -4.65 115
72.3 -4.5 60
70.5 -5.05 100
71.9 -5.05 60
73 -5.2 100
68.5 -5.15 110
70 -5.55 110
71.1 -5.7 85
70.1 -6.05 100
71.1 -6.05 100
67.9 -6.05 50
68.1 -6.2 110
67.8 -6.55 50
76.9 -4.8 50
79.7 -4.8 45
82 -4.8 60
82.8 -4.75 100
82.9 -5.05 100
85.2 -4.6 25
86.8 -4.8 100
86.2 -5 120
84.7 -5.25 110
79.3 -5.15 25
81.5 -5.55 40
76 -5.55 170
75.9 -5.8 50
77.6 -6 25
79.7 -6.3 50
78 -6.65 30
75.7 -6.95 40
76.2 -6.95 40
79.9 -7.15 130
79.8 -7.3 100
77.3 -7.35 50
79.8 -7.5 50
86.9 -5.7 100
88.1 -7.75 110
87 -8.4 90
86.5 -9.05 110
69.2 -8.2 30
75.8 -9.3 25
77 -9.15 30
79.8 -2.25 50
80.2 -2.65 100
81 -3.1 50
81.5 -3.2 50
81.8 -2.9 100
81.7 -3.5 50
82.6 -3.2 40
81.3 -3.8 50
81.5 -3.95 50
80.9 -4.1 100
80.1 -4.2 70
80 -4.5 40
82.9 -3.75 100
84 -3.75 100
83.7 -3.35 110
80 -1.15 50
81.6 -1.1 110
80.3 -.8 90
81.9 -.7 30
83 -.75 90
81.8 -.35 40
82.7 -.35 90
81.1 -.15 215
80.2 -1.55 100
80.9 -1.5 100
80.4 -1.75 100
81.8 -1.8 40
82.9 -1.5 110
81 -2 25
84.2 -2.1 25
83.5 -1.35 170
83.7 -1.45 170
85 -1.45 100
86 -2.45 260
87 -1.7 110
87 -1.8 110
86.7 -2.3 100
87.1 -2.8 110
88.1 -2.7 100
89.3 -2.75 100
87.7 -3.15 100
88.3 -3.4 100
89.4 -3.45 110
87.1 -3.5 110
91.3 -3.6 100
90.2 -2.35 100
89.7 -.7 100
88 -.8 100
86.8 -.8 110
86.2 -.8 120
87 -1 110
}\datatable
\pgfplotstableread{
x y
0 0
180 0
}\zeroline
\begin{document}
\begin{tikzpicture}
\path[use as bounding box] (0pt,0pt) rectangle (800pt,584.5pt);
\begin{axis}[
  at={(67.75pt,55pt)}, anchor=south west,
  scale only axis, width=620pt, height=472.5pt,
  xmin=0, xmax=180, ymin=-20, ymax=20,
  xtick={0,20,...,180},
  ytick={-20,-15,...,20},
  yticklabels={−20,−15,−10,−5,0,5,10,15,20},
  minor x tick num=1, minor y tick num=4,
  tick align=outside, tick pos=both,
  xticklabel pos=bottom, yticklabel pos=left,
  major tick length=6pt, minor tick length=3pt,
  tick style={black,line width=0.6pt},
  axis line style={black,line width=1.2pt},
  /pgf/number format/assume math mode=true,
  tick label style={font=\fontsize{17.2}{20}\selectfont},
  xticklabel style={yshift=-3.5pt},
  yticklabel style={xshift=-1.5pt},
  label style={font=\fontsize{16.9}{20}\selectfont},
  title={Phase Residuals by distance to the event (S Sn Sg Sb)},
  title style={font=\fontsize{20.8}{25}\selectfont,at={(axis description cs:0.5,1.0857)},anchor=center},
  xlabel={Epicentre distance (degrees)},
  ylabel={Residual (seconds)},
  x label style={at={(axis description cs:0.5,-0.0995)},anchor=center},
  y label style={at={(axis description cs:-0.096,0.5)},anchor=center},
  colormap={roma}{rgb255=(122,28,6) rgb255=(140,60,15) rgb255=(160,100,30) rgb255=(185,150,60) rgb255=(215,205,130) rgb255=(190,230,185) rgb255=(125,215,215) rgb255=(75,170,200) rgb255=(45,125,180) rgb255=(30,85,160) rgb255=(10,45,140)},
  point meta min=0, point meta max=360,
  colorbar,
  colorbar/width=22.5pt,
  colorbar style={
    at={(parent axis.south west)}, anchor=south west,
    xshift=640.7pt, yshift=118.5pt,
    height=236pt,
    ytick={0,60,...,360},
    yticklabel pos=right,
    ylabel={Station to event azimuth},
    y label style={at={(axis description cs:3.36,0.5)},anchor=center,font=\fontsize{16.9}{20}\selectfont},
    yticklabel style={font=\fontsize{17.2}{20}\selectfont,text width=29pt,align=right,xshift=8.7pt},
    major tick length=6pt,
    tick style={black,line width=0.6pt},
    axis line style={black,line width=1.2pt},
    /pgf/number format/assume math mode=true,
  },
]
\addplot[scatter, only marks, mark=*, mark size=0.85pt, line width=0.1pt, scatter src=explicit]
  table[x=x,y=y,meta=m] {\datatable};
\addplot[no marks, color=black!30, line width=0.5pt] table[x=x,y=y] {\zeroline};
\addplot[no marks, color=black!60, line width=1.1pt, dash pattern=on 3pt off 3.2pt] table[x=x,y=y] {\zeroline};
\end{axis}
\end{tikzpicture}
\end{document}
